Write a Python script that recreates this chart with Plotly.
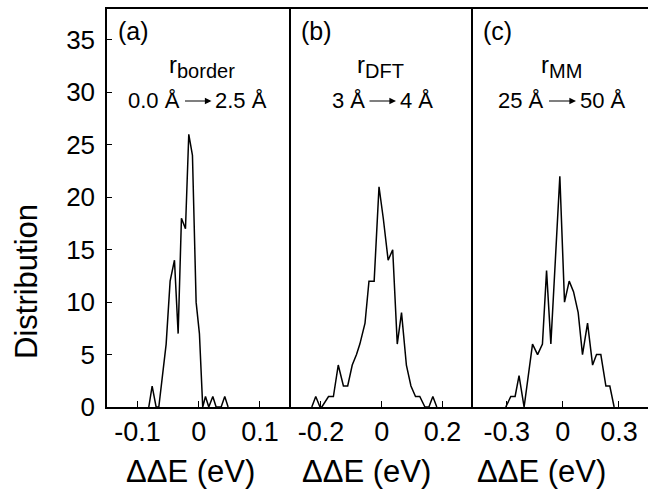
import plotly.graph_objects as go

# ---------------- data ----------------
a_x = [-0.0817, -0.0762, -0.0697, -0.0653, -0.0533, -0.0468, -0.0397, -0.0337, -0.0283,
       -0.0217, -0.0163, -0.0103, -0.0043, 0.0011, 0.0065, 0.011, 0.0164, 0.023, 0.0284,
       0.0366, 0.0425, 0.048]
a_y = [0, 2, 0, 0, 6, 12, 14, 7, 18, 17, 26, 24, 10, 7, 0, 1, 0, 1, 0, 0, 1, 0]

b_x = [-0.230, -0.217, -0.203, -0.197, -0.175, -0.159, -0.143, -0.126, -0.112, -0.097,
       -0.083, -0.072, -0.055, -0.042, -0.025, -0.009, 0.005, 0.021, 0.036, 0.051, 0.065,
       0.081, 0.096, 0.111, 0.125, 0.142, 0.155, 0.168, 0.181]
b_y = [0, 1, 0, 0, 1, 1, 4, 2, 2, 4, 5, 6, 8, 12, 12, 21, 18, 14, 15, 6, 9, 4, 2, 1, 1,
       0, 0, 1, 0]

c_x = [-0.305, -0.278, -0.255, -0.234, -0.207, -0.184, -0.162, -0.135, -0.109, -0.087,
       -0.064, -0.016, 0.009, 0.034, 0.057, 0.082, 0.105, 0.132, 0.159, 0.180, 0.203,
       0.230, 0.251, 0.274]
c_y = [0, 1, 1, 3, 0, 3, 6, 5, 6, 13, 6, 22, 10, 12, 11, 9, 5, 8, 4, 5, 5, 2, 2, 0]

a_ticks = [-0.1, 0, 0.1]
a_ticktext = ["-0.1", "0", "0.1"]
b_ticks = [-0.2, 0, 0.2]
b_ticktext = ["-0.2", "0", "0.2"]
c_ticks = [-0.3, 0, 0.3]
c_ticktext = ["-0.3", "0", "0.3"]
y_ticks = [0, 5, 10, 15, 20, 25, 30, 35]

panel_labels = ["(a)", "(b)", "(c)"]
radius_names = ["border", "DFT", "MM"]
range_from = ["0.0 Å", "3 Å", "25 Å"]
range_to = ["2.5 Å", "4 Å", "50 Å"]
x_title = "ΔΔE (eV)"
y_title = "Distribution"

# ---------------- layout geometry ----------------
W, H = 648, 497
L, R, T, B = 107, 0, 9, 90
PW = W - L - R
PH = H - T - B

def px(x):
    return (x - L) / PW

def py(y):
    return (H - B - y) / PH

FONT = "Arial, Liberation Sans, Helvetica, sans-serif"

fig = go.Figure()
for i, (xs, ys) in enumerate([(a_x, a_y), (b_x, b_y), (c_x, c_y)]):
    fig.add_trace(go.Scatter(
        x=xs, y=ys, mode="lines",
        line=dict(color="black", width=1.5),
        xaxis="x" if i == 0 else f"x{i+1}",
        yaxis="y" if i == 0 else f"y{i+1}",
        showlegend=False, hoverinfo="skip"))

dom_a = [0, px(290.5)]
dom_b = [px(290.5), px(473)]
dom_c = [px(473), 1]

xcommon = dict(showline=True, linecolor="black", linewidth=1.5, mirror=True,
               ticks="inside", ticklen=6, tickwidth=1, tickcolor="black",
               showgrid=False, zeroline=False,
               tickfont=dict(family=FONT, size=27, color="black"))

fig.update_layout(
    width=W, height=H,
    margin=dict(l=L, r=R, t=T, b=B),
    paper_bgcolor="white", plot_bgcolor="white",
    xaxis=dict(domain=dom_a, range=[-0.15, 0.15], tickvals=a_ticks, ticktext=a_ticktext,
               anchor="y", **xcommon),
    xaxis2=dict(domain=dom_b, range=[-0.3, 0.3], tickvals=b_ticks, ticktext=b_ticktext,
                anchor="y2", **xcommon),
    xaxis3=dict(domain=dom_c, range=[-0.48, 0.455], tickvals=c_ticks, ticktext=c_ticktext,
                anchor="y3", **xcommon),
    yaxis=dict(range=[0, 37.95], tickvals=y_ticks, showline=True, linecolor="black",
               linewidth=1.5, mirror=False, ticks="inside", ticklen=5, tickwidth=1,
               tickcolor="black", showgrid=False, zeroline=False, anchor="x",
               ticklabelstandoff=5,
               tickfont=dict(family=FONT, size=26, color="black")),
    yaxis2=dict(range=[0, 37.95], showline=True, linecolor="black", linewidth=1.5,
                mirror=False, showticklabels=False, ticks="", showgrid=False,
                zeroline=False, anchor="x2"),
    yaxis3=dict(range=[0, 37.95], showline=True, linecolor="black", linewidth=1.5,
                mirror=False, showticklabels=False, ticks="", showgrid=False,
                zeroline=False, anchor="x3"),
)

ann = []
# panel labels
for lab, cx in zip(panel_labels, [133, 316, 497]):
    ann.append(dict(text=lab, x=px(cx), y=py(31), xref="paper", yref="paper",
                    showarrow=False, xanchor="center", yanchor="middle",
                    font=dict(family=FONT, size=25, color="black")))
# radius names
for nm, cx in zip(radius_names, [201.7, 380.5, 561]):
    ann.append(dict(text=f"r<sub><span style='font-size:20px'>{nm}</span></sub>",
                    x=px(cx), y=py(66), xref="paper", yref="paper",
                    showarrow=False, xanchor="center", yanchor="middle",
                    font=dict(family=FONT, size=24, color="black")))
# ranges with arrows
arrow_spans = [(183.5, 211.5), (368, 396), (547.5, 576)]
for fr, to, (x0, x1) in zip(range_from, range_to, arrow_spans):
    ann.append(dict(text=fr, x=px(x0 - 1.5), y=py(100), xref="paper", yref="paper",
                    showarrow=False, xanchor="right", yanchor="middle",
                    font=dict(family=FONT, size=22, color="black")))
    ann.append(dict(text=to, x=px(x1 + 1.5), y=py(100), xref="paper", yref="paper",
                    showarrow=False, xanchor="left", yanchor="middle",
                    font=dict(family=FONT, size=22, color="black")))
    ann.append(dict(text="", x=px(x1), y=py(101), xref="paper", yref="paper",
                    showarrow=True, ax=-(x1 - x0), ay=0, axref="pixel", ayref="pixel",
                    arrowhead=2, arrowsize=1.1, arrowwidth=1.2, arrowcolor="black",
                    standoff=0, startstandoff=0))
# x titles
for cx in [190, 366.7, 541.5]:
    ann.append(dict(text=x_title, x=px(cx), y=py(471), xref="paper", yref="paper",
                    showarrow=False, xanchor="center", yanchor="middle",
                    font=dict(family=FONT, size=31, color="black")))
# y title
ann.append(dict(text=y_title, x=px(26), y=py(282), xref="paper", yref="paper",
                showarrow=False, xanchor="center", yanchor="middle", textangle=-90,
                font=dict(family=FONT, size=31, color="black")))

fig.update_layout(annotations=ann)
fig.write_html("out.html")
